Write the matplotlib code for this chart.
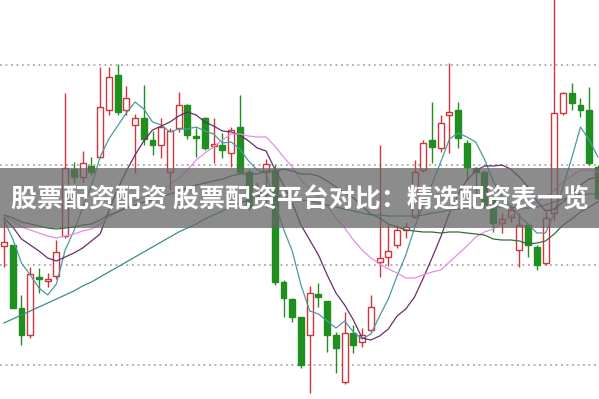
import numpy as np
import matplotlib.pyplot as plt
from matplotlib.patches import Rectangle

# Daily candles (price), left to right
opens = [11.19, 11.20, 10.57, 10.30, 10.88, 10.84, 10.89, 11.29, 11.96, 11.88,
         11.99, 12.08, 12.55, 12.90, 12.55, 12.40, 12.47, 12.25, 12.20, 11.93,
         12.37, 12.60, 12.29, 12.47, 12.19, 12.20, 12.12, 12.38, 11.93, 11.70,
         11.93, 11.95, 10.83, 10.66, 10.48, 10.30, 10.71, 10.64, 10.30, 9.83,
         10.32, 10.23, 10.35, 11.03, 11.08, 11.20, 11.35, 11.48, 11.95, 12.25,
         12.17, 12.50, 12.55, 12.22, 11.97, 11.93, 11.65, 11.42, 11.48, 11.15,
         11.40, 11.18, 11.02, 11.52, 12.52, 12.72, 12.60, 12.55, 11.98]
highs = [11.45, 11.20, 10.70, 10.98, 10.97, 10.92, 11.25, 12.72, 12.03, 12.14,
         12.08, 12.98, 12.98, 13.01, 12.79, 12.51, 12.80, 12.34, 12.47, 12.37,
         12.73, 12.61, 12.37, 12.48, 12.47, 12.32, 12.38, 12.70, 11.96, 11.83,
         12.06, 12.00, 10.85, 10.67, 10.48, 10.79, 10.82, 10.64, 10.33, 10.53,
         10.40, 10.37, 10.70, 12.20, 11.41, 11.40, 11.43, 12.05, 12.25, 12.63,
         12.50, 13.02, 12.63, 12.25, 11.98, 11.95, 11.68, 11.52, 11.58, 11.52,
         11.42, 11.20, 11.53, 13.70, 12.73, 12.82, 12.67, 12.78, 12.00]
lows = [10.98, 10.57, 10.20, 10.27, 10.72, 10.78, 10.86, 11.27, 11.82, 11.83,
        11.90, 12.07, 12.50, 12.50, 12.50, 11.92, 12.20, 12.10, 12.07, 11.75,
        12.33, 12.26, 12.08, 12.15, 12.02, 12.07, 11.98, 11.92, 11.55, 11.60,
        11.58, 10.80, 10.48, 10.43, 9.97, 9.72, 10.58, 10.13, 9.92, 9.81,
        10.12, 10.18, 10.33, 10.88, 10.99, 11.17, 11.27, 11.47, 11.93, 12.02,
        12.13, 12.12, 12.17, 11.85, 11.68, 11.57, 11.33, 11.32, 11.43, 10.98,
        11.08, 10.95, 11.00, 11.45, 12.50, 12.55, 12.48, 12.00, 11.65]
closes = [11.23, 10.57, 10.30, 10.91, 10.86, 10.86, 11.13, 11.97, 11.88, 12.02,
          11.93, 12.58, 12.88, 12.53, 12.67, 12.47, 12.26, 12.20, 12.38, 12.34,
          12.60, 12.30, 12.27, 12.17, 12.21, 12.15, 12.35, 11.93, 11.58, 11.73,
          12.01, 10.83, 10.67, 10.48, 10.00, 10.72, 10.68, 10.30, 10.17, 10.32,
          10.20, 10.30, 10.58, 11.07, 11.14, 11.35, 11.38, 11.93, 12.22, 12.18,
          12.42, 12.53, 12.27, 11.98, 11.93, 11.60, 11.42, 11.46, 11.55, 11.40,
          11.20, 11.00, 11.47, 12.52, 12.72, 12.62, 12.55, 12.02, 11.67]

# Moving average lines
ma5 = [11.45, 11.26, 11.02, 10.90, 10.77, 10.70, 10.81, 11.15, 11.34, 11.57,
       11.79, 12.08, 12.26, 12.39, 12.52, 12.63, 12.56, 12.43, 12.40, 12.33,
       12.36, 12.36, 12.38, 12.34, 12.31, 12.22, 12.23, 12.16, 12.04, 11.95,
       11.92, 11.62, 11.36, 11.14, 10.80, 10.54, 10.51, 10.44, 10.37, 10.44,
       10.33, 10.26, 10.31, 10.49, 10.66, 10.89, 11.10, 11.37, 11.60, 11.81,
       12.03, 12.26, 12.32, 12.28, 12.23, 12.06, 11.84, 11.68, 11.59, 11.49,
       11.41, 11.32, 11.32, 11.52, 11.78, 12.07, 12.38, 12.25, 12.08]
ma10 = [11.47, 11.38, 11.26, 11.20, 11.14, 11.07, 11.04, 11.08, 11.12, 11.17,
        11.24, 11.31, 11.54, 11.76, 11.94, 12.10, 12.24, 12.35, 12.39, 12.43,
        12.49, 12.53, 12.50, 12.43, 12.39, 12.34, 12.33, 12.30, 12.24, 12.17,
        12.14, 11.96, 11.80, 11.62, 11.40, 11.25, 11.10, 10.90, 10.72, 10.60,
        10.45, 10.27, 10.25, 10.29, 10.36, 10.49, 10.56, 10.68, 10.87, 11.07,
        11.28, 11.52, 11.71, 11.85, 11.94, 11.99, 11.99, 12.00, 11.96, 11.88,
        11.78, 11.64, 11.54, 11.56, 11.63, 11.70, 11.80, 11.86, 11.88]
ma20 = [11.49, 11.44, 11.38, 11.35, 11.32, 11.29, 11.27, 11.29, 11.31, 11.34,
        11.36, 11.41, 11.48, 11.53, 11.59, 11.64, 11.68, 11.71, 11.76, 11.80,
        11.87, 11.95, 12.05, 12.12, 12.18, 12.25, 12.31, 12.31, 12.29, 12.28,
        12.28, 12.19, 12.08, 11.98, 11.85, 11.76, 11.68, 11.59, 11.47, 11.37,
        11.25, 11.15, 11.07, 11.01, 10.96, 10.92, 10.87, 10.87, 10.90, 10.93,
        10.95, 11.03, 11.11, 11.19, 11.28, 11.33, 11.36, 11.42, 11.49, 11.55,
        11.60, 11.63, 11.68, 11.75, 11.83, 11.89, 11.95, 11.95, 11.93]
ma30 = [11.50, 11.47, 11.43, 11.41, 11.39, 11.37, 11.36, 11.37, 11.38, 11.40,
        11.41, 11.45, 11.50, 11.53, 11.57, 11.60, 11.63, 11.65, 11.68, 11.71,
        11.74, 11.77, 11.80, 11.82, 11.84, 11.86, 11.89, 11.91, 11.91, 11.91,
        11.94, 11.94, 11.96, 11.94, 11.91, 11.91, 11.89, 11.84, 11.78, 11.72,
        11.67, 11.59, 11.51, 11.47, 11.41, 11.38, 11.35, 11.34, 11.33, 11.33,
        11.32, 11.33, 11.33, 11.32, 11.31, 11.30, 11.26, 11.25, 11.25, 11.24,
        11.21, 11.22, 11.24, 11.31, 11.40, 11.46, 11.53, 11.58, 11.63]
ma60 = [10.42, 10.46, 10.50, 10.54, 10.58, 10.62, 10.66, 10.70, 10.74, 10.79,
        10.83, 10.88, 10.93, 10.98, 11.03, 11.08, 11.13, 11.18, 11.23, 11.28,
        11.33, 11.37, 11.41, 11.46, 11.50, 11.54, 11.58, 11.62, 11.65, 11.68,
        11.70, 11.70, 11.69, 11.67, 11.65, 11.64, 11.62, 11.60, 11.58, 11.56,
        11.54, 11.52, 11.50, 11.50, 11.49, 11.49, 11.49, 11.49, 11.50, 11.52,
        11.53, 11.55, 11.56, 11.57, 11.58, 11.58, 11.58, 11.58, 11.58, 11.57,
        11.57, 11.58, 11.60, 11.63, 11.66, 11.69, 11.71, 11.71, 11.71]

title = '股票配资配资 股票配资平台对比：精选配资表一览'

up_color = '#d0343c'
down_color = '#1f8f1f'

o = np.array(opens)
h = np.array(highs)
l = np.array(lows)
c = np.array(closes)
x = np.arange(len(o))
up = c >= o

fig = plt.figure(figsize=(5.99, 3.99), dpi=100)
ax = fig.add_axes([0, 0, 1, 1])
ax.set_xlim(-0.46, 68.12)
ax.set_ylim(9.66, 13.65)
ax.axis('off')

# dotted price levels
for lvl in [10, 11, 12, 13]:
    ax.axhline(lvl, color='#9a9a9a', lw=1.1, ls=(0, (1.2, 2.4)), zorder=0)

# wicks
ax.vlines(x, l, h, colors=np.where(up, up_color, down_color), lw=1.0, zorder=2)

# bodies
width = 0.68
ax.bar(x[up], np.maximum(c[up] - o[up], 0.02), bottom=o[up], width=width,
       facecolor='white', edgecolor=up_color, linewidth=1.0, zorder=3)
ax.bar(x[~up], np.maximum(o[~up] - c[~up], 0.02), bottom=c[~up], width=width,
       facecolor=down_color, edgecolor=down_color, linewidth=1.0, zorder=3)

# moving averages
ax.plot(x, ma5, color='#4a9a9e', lw=0.9, zorder=4)
ax.plot(x, ma10, color='#6b2c6b', lw=0.9, zorder=4)
ax.plot(x, ma20, color='#e48ee4', lw=0.9, zorder=4)
ax.plot(x, ma30, color='#2f6f3a', lw=0.9, zorder=4)
ax.plot(x, ma60, color='#3a8c8c', lw=0.9, zorder=4)

# title banner
ax.add_patch(Rectangle((0, 1 - 228 / 399), 1, 60 / 399, transform=ax.transAxes,
                       facecolor='#666666', alpha=0.75, edgecolor='none', zorder=5))
ax.text(0.5, 1 - 200 / 399, title, transform=ax.transAxes, ha='center', va='center',
        fontsize=18.7, fontweight='bold', color='white',
        family=['Noto Sans CJK SC', 'DejaVu Sans'], zorder=6)

fig.savefig('out.png', dpi=100)
